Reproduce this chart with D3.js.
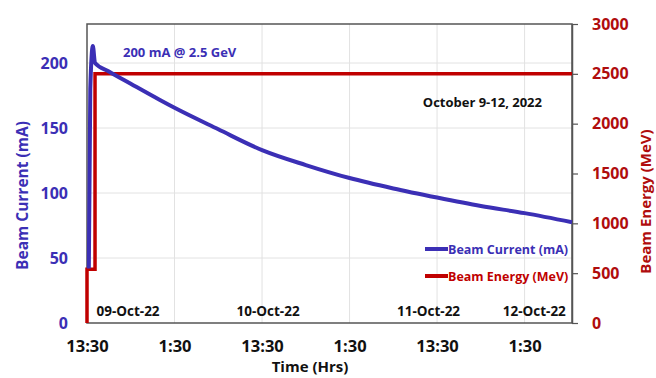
<!DOCTYPE html>
<html>
<head>
<meta charset="utf-8">
<script src="https://cdn.jsdelivr.net/npm/d3@7"></script>
<style>
  body { margin: 0; background: #fff; }
  text { font-family: "Open Sans", "DejaVu Sans", sans-serif; font-weight: 700; }
</style>
</head>
<body>
<div id="chart"></div>
<script>
// hours since 09-Oct-22 13:30
const currentHours = [0.25, 0.45, 0.8, 1.1, 3, 6, 10, 12, 18, 24, 30, 36, 42, 48, 54, 60, 66.5];
const currentValues = [42, 180, 213, 200, 193.5, 184, 171.5, 165.5, 149, 133, 121.5, 111.5, 103.5, 96.5, 90, 84.5, 77.5];

const energyHours = [0, 0, 1.1, 1.1, 66.5];
const energyValues = [0, 540, 540, 2500, 2500];

const xTickHours = [0, 12, 24, 36, 48, 60];
const xTickLabels = ["13:30", "1:30", "13:30", "1:30", "13:30", "1:30"];
const leftTicks = [0, 50, 100, 150, 200];
const rightTicks = [0, 500, 1000, 1500, 2000, 2500, 3000];

const dateLabels = ["09-Oct-22", "10-Oct-22", "11-Oct-22", "12-Oct-22"];
const dateLabelHours = [1.3, 20.5, 42.5, 57];

const blue = "#3b2fb5", red = "#c00000", redText = "#b00d0d";

const margin = {top: 24, right: 84, bottom: 55, left: 87};
const W = 656, H = 378;
const width = W - margin.left - margin.right;
const height = H - margin.top - margin.bottom;

const t0 = new Date(2022, 9, 9, 13, 30);
const toDate = h => new Date(t0.getTime() + h * 3600e3);

const svg = d3.select("#chart").append("svg")
    .attr("width", W).attr("height", H)
    .append("g")
    .attr("transform", `translate(${margin.left},${margin.top})`);

const x = d3.scaleTime().domain([t0, toDate(66.5)]).range([0, width]);
const yL = d3.scaleLinear().domain([0, 230]).range([height, 0]);
const yR = d3.scaleLinear().domain([0, 3000]).range([height, 0]);

// grid
svg.append("g").selectAll("line.h")
    .data(leftTicks.slice(1)).enter().append("line")
    .attr("x1", 0).attr("x2", width)
    .attr("y1", d => yL(d)).attr("y2", d => yL(d))
    .attr("stroke", "#e2e2e2").attr("stroke-width", 1);
svg.append("g").selectAll("line.v")
    .data(xTickHours.slice(1)).enter().append("line")
    .attr("x1", d => x(toDate(d))).attr("x2", d => x(toDate(d)))
    .attr("y1", 0).attr("y2", height)
    .attr("stroke", "#e2e2e2").attr("stroke-width", 1);

// frame
svg.append("rect")
    .attr("width", width).attr("height", height)
    .attr("fill", "none").attr("stroke", "#555").attr("stroke-width", 1.5);

// x axis labels
const xAxis = d3.axisBottom(x)
    .tickValues(xTickHours.map(toDate))
    .tickFormat((d, i) => xTickLabels[i])
    .tickSize(0).tickPadding(17);
svg.append("g")
    .attr("transform", `translate(0,${height})`)
    .call(xAxis)
    .call(g => g.select(".domain").remove())
    .selectAll("text")
    .attr("font-size", 16.5).attr("fill", "#111")
    .style("font-family", "'Open Sans', sans-serif").style("font-weight", 700);

// left axis
svg.append("g")
    .call(d3.axisLeft(yL).tickValues(leftTicks).tickSize(0).tickPadding(19))
    .call(g => g.select(".domain").remove())
    .selectAll("text")
    .attr("font-size", 16).attr("fill", blue)
    .style("font-family", "'Open Sans', sans-serif").style("font-weight", 700);

// right axis
svg.append("g")
    .attr("transform", `translate(${width},0)`)
    .call(d3.axisRight(yR).tickValues(rightTicks).tickFormat(d3.format("d"))
        .tickSize(6).tickSizeOuter(0).tickPadding(14))
    .call(g => g.select(".domain").attr("stroke", "#555").attr("stroke-width", 1.5))
    .call(g => g.selectAll(".tick line").attr("stroke", "#555").attr("stroke-width", 1.2))
    .selectAll("text")
    .attr("font-size", 16).attr("fill", redText)
    .style("font-family", "'Open Sans', sans-serif").style("font-weight", 700);

// lines
const energyData = energyHours.map((h, i) => ({t: toDate(h), v: energyValues[i]}));
const currentData = currentHours.map((h, i) => ({t: toDate(h), v: currentValues[i]}));

svg.append("path")
    .datum(energyData)
    .attr("fill", "none").attr("stroke", red).attr("stroke-width", 3.5)
    .attr("d", d3.line().x(d => x(d.t)).y(d => yR(d.v)));

svg.append("path")
    .datum(currentData)
    .attr("fill", "none").attr("stroke", blue).attr("stroke-width", 4)
    .attr("stroke-linejoin", "round")
    .attr("d", d3.line().x(d => x(d.t)).y(d => yL(d.v)).curve(d3.curveMonotoneX));

// date labels
svg.append("g").selectAll("text")
    .data(dateLabels).enter().append("text")
    .attr("x", (d, i) => x(toDate(dateLabelHours[i])))
    .attr("y", height - 7)
    .attr("font-size", 13.5).attr("fill", "#111")
    .text(d => d);

// annotations
svg.append("text")
    .attr("x", 36).attr("y", 33)
    .attr("font-size", 13).attr("fill", blue)
    .text("200 mA @ 2.5 GeV");
svg.append("text")
    .attr("x", 455).attr("y", 83)
    .attr("text-anchor", "end")
    .attr("font-size", 13).attr("fill", "#111")
    .text("October 9-12, 2022");

// legend
const legendItems = [
    {label: "Beam Current (mA)", color: blue, y: 225},
    {label: "Beam Energy (MeV)", color: red, y: 252}
];
const legend = svg.append("g").attr("transform", `translate(338,0)`);
legend.selectAll("line").data(legendItems).enter().append("line")
    .attr("x1", 0).attr("x2", 23)
    .attr("y1", d => d.y).attr("y2", d => d.y)
    .attr("stroke", d => d.color).attr("stroke-width", 4);
legend.selectAll("text").data(legendItems).enter().append("text")
    .attr("x", 23).attr("y", d => d.y + 4.5)
    .attr("font-size", 12.5).attr("fill", d => d.color)
    .text(d => d.label);

// axis titles
svg.append("text")
    .attr("transform", `translate(${-59},${height / 2 + 22}) rotate(-90)`)
    .attr("text-anchor", "middle")
    .attr("font-size", 15.5).attr("fill", blue)
    .text("Beam Current (mA)");
svg.append("text")
    .attr("transform", `translate(${width + 79},${height / 2 + 28}) rotate(-90)`)
    .attr("text-anchor", "middle")
    .attr("font-size", 15).attr("fill", redText)
    .text("Beam Energy (MeV)");

svg.append("text")
    .attr("x", 223).attr("y", height + 49)
    .attr("text-anchor", "middle")
    .attr("font-size", 15).attr("fill", "#111")
    .text("Time (Hrs)");
</script>
</body>
</html>
